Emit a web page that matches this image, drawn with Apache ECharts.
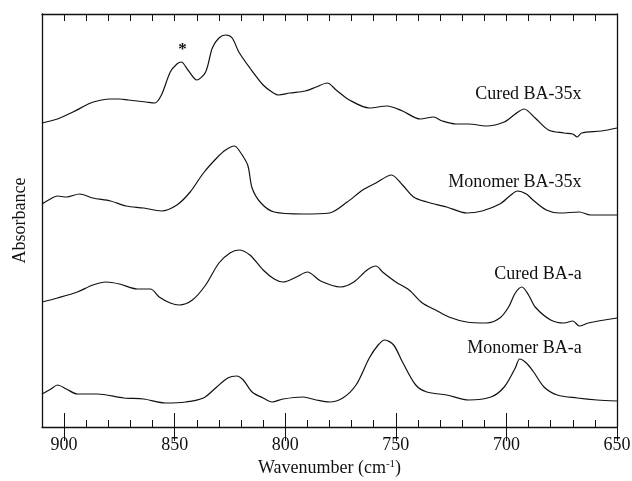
<!DOCTYPE html>
<html>
<head>
<meta charset="utf-8">
<script src="https://cdn.jsdelivr.net/npm/echarts@6/dist/echarts.min.js"></script>
<style>
  html, body { margin: 0; padding: 0; background: #fff; }
  #chart { width: 632px; height: 481px; }
</style>
</head>
<body>
<div id="chart"></div>
<script>
// wavenumber (cm-1) and offset absorbance (arbitrary units) for each spectrum
const wnCured35x = [910, 903, 896, 888, 883, 879, 875, 871, 867, 863, 859, 856, 852, 849, 847, 844, 840, 836, 833, 830, 827, 824, 821, 816, 810, 806, 803, 798, 791, 786, 781, 777, 771, 762, 754, 747, 739, 733, 729, 723, 717, 709, 701, 696, 692, 687, 681, 674, 670, 668, 666, 657, 650]
const absCured35x = [304, 308, 315, 324, 327, 328, 328, 327, 326, 325, 324, 332, 355, 363, 365, 357, 347, 355, 379, 389, 392, 389, 375, 359, 342, 335, 332, 334, 336, 340, 344, 337, 327, 319, 321, 316, 308, 310, 306, 303, 303, 301, 305, 313, 318, 309, 297, 294, 293, 290, 294, 296, 299]

const wnMono35x = [910, 907, 903, 899, 893, 887, 879, 872, 864, 856, 849, 843, 837, 831, 827, 823, 821, 817, 815, 811, 805, 792, 780, 772, 765, 759, 752, 747, 742, 736, 727, 718, 711, 703, 698, 695, 691, 688, 682, 676, 667, 662, 650]
const absMono35x = [223, 227, 231, 230, 233, 229, 226, 221, 219, 216, 222, 235, 254, 269, 277, 281, 277, 262, 239, 224, 215, 213, 214, 225, 237, 244, 252, 242, 230, 225, 220, 214, 216, 223, 232, 236, 233, 227, 217, 214, 215, 212, 212]

const wnCuredA = [910, 903, 894, 887, 881, 875, 867, 861, 857, 852, 848, 842, 836, 830, 825, 821, 816, 810, 805, 801, 795, 790, 784, 775, 769, 763, 759, 756, 750, 744, 738, 732, 726, 718, 709, 703, 699, 696, 693, 690, 687, 680, 674, 670, 667, 663, 650]
const absCuredA = [125, 129, 135, 142, 145, 143, 138, 138, 130, 124, 122, 127, 142, 164, 174, 177, 172, 157, 148, 145, 150, 155, 146, 140, 145, 157, 161, 155, 145, 137, 124, 117, 110, 105, 104, 109, 120, 134, 140, 132, 120, 107, 104, 106, 101, 104, 109]

const wnMonoA = [910, 906, 903, 899, 894, 885, 873, 864, 854, 845, 837, 831, 826, 822, 819, 815, 810, 806, 801, 792, 786, 780, 774, 768, 762, 758, 755, 751, 747, 741, 736, 727, 717, 707, 701, 696, 694, 691, 688, 683, 677, 668, 659, 650]
const absMonoA = [33, 38, 42, 38, 33, 33, 29, 28, 24, 25, 29, 40, 49, 51, 47, 35, 29, 25, 28, 30, 27, 25, 29, 42, 69, 82, 87, 82, 65, 42, 35, 32, 27, 30, 40, 59, 68, 64, 56, 40, 32, 29, 27, 26]

// tick positions and labels
const majorTicks = [900, 850, 800, 750, 700, 650]
const minorTicks = [900, 890, 880, 870, 860, 850, 840, 830, 820, 810, 800, 790, 780, 770, 760, 750, 740, 730, 720, 710, 700, 690, 680, 670, 660, 650]

// curve labels (right end anchored at these points)
const labelText = ['Cured BA-35x', 'Monomer BA-35x', 'Cured BA-a', 'Monomer BA-a']
const labelWn = [666, 666, 666, 666]
const labelAbs = [333, 245, 153, 79]

// asterisk above the 847 cm-1 band
const starWn = 846.5
const starAbs = 377

const FONT = 'Liberation Serif'
const INK = '#111'

function pairs (xs, ys) {
  return xs.map((x, i) => [x, ys[i]])
}

const spectra = [
  pairs(wnCured35x, absCured35x),
  pairs(wnMono35x, absMono35x),
  pairs(wnCuredA, absCuredA),
  pairs(wnMonoA, absMonoA)
]

function baseX (extra) {
  return Object.assign({
    type: 'value',
    min: 650,
    max: 910,
    inverse: true,
    splitLine: { show: false },
    axisLine: { show: false },
    axisLabel: { show: false },
    axisTick: { show: false }
  }, extra)
}

const series = spectra.map((d, i) => {
  const mp = [{
    coord: [labelWn[i], labelAbs[i]],
    label: { formatter: labelText[i] }
  }]
  if (i === 0) {
    mp.push({
      coord: [starWn, starAbs],
      label: { formatter: '*', position: 'inside', align: 'center', fontSize: 17, fontWeight: 'bold' }
    })
  }
  return {
    type: 'line',
    data: d,
    smooth: 0.3,
    showSymbol: false,
    symbol: 'none',
    lineStyle: { color: INK, width: 1.2 },
    silent: true,
    markPoint: {
      symbol: 'circle',
      symbolSize: 0,
      silent: true,
      itemStyle: { color: 'rgba(0,0,0,0)' },
      label: {
        show: true,
        position: 'left',
        distance: 0,
        color: INK,
        fontFamily: FONT,
        fontSize: 18
      },
      data: mp
    }
  }
})

const chart = echarts.init(document.getElementById('chart'), null, { renderer: 'canvas' })
chart.setOption({
  animation: false,
  backgroundColor: '#fff',
  grid: { left: 42, right: 15, top: 14, bottom: 54, containLabel: false, outerBoundsMode: 'none' },
  xAxis: [
    baseX({
      position: 'bottom',
      axisLine: { show: true, onZero: false, lineStyle: { color: INK, width: 1.3 } },
      axisTick: { show: true, inside: true, length: 7, customValues: minorTicks, lineStyle: { color: INK, width: 1 } },
      axisLabel: {
        show: true,
        margin: 9,
        color: INK,
        fontFamily: FONT,
        fontSize: 18,
        customValues: majorTicks
      },
      name: 'Wavenumber (cm{sup|-1})',
      nameLocation: 'middle',
      nameGap: 29,
      nameTextStyle: {
        color: INK,
        fontFamily: FONT,
        fontSize: 18,
        rich: {
          sup: { fontFamily: FONT, fontSize: 11, color: INK, verticalAlign: 'top', padding: [0, 0, 8, 0] }
        }
      }
    }),
    baseX({
      position: 'bottom',
      axisTick: { show: true, inside: true, length: 14, customValues: majorTicks, lineStyle: { color: INK, width: 1 } }
    }),
    baseX({
      position: 'top',
      axisLine: { show: true, onZero: false, lineStyle: { color: INK, width: 1.3 } },
      axisTick: { show: true, inside: true, length: 7, customValues: minorTicks, lineStyle: { color: INK, width: 1 } }
    }),
    baseX({
      position: 'top',
      axisTick: { show: true, inside: true, length: 14, customValues: majorTicks, lineStyle: { color: INK, width: 1 } }
    })
  ],
  yAxis: [
    {
      type: 'value',
      min: 0,
      max: 413,
      position: 'left',
      splitLine: { show: false },
      axisTick: { show: false },
      axisLabel: { show: false },
      axisLine: { show: true, onZero: false, lineStyle: { color: INK, width: 1.3 } },
      name: 'Absorbance',
      nameLocation: 'middle',
      nameGap: 13,
      nameRotate: 90,
      nameTextStyle: { color: INK, fontFamily: FONT, fontSize: 18 }
    },
    {
      type: 'value',
      min: 0,
      max: 413,
      position: 'right',
      splitLine: { show: false },
      axisTick: { show: false },
      axisLabel: { show: false },
      axisLine: { show: true, onZero: false, lineStyle: { color: INK, width: 1.3 } }
    }
  ],
  series: series
})
</script>
</body>
</html>
